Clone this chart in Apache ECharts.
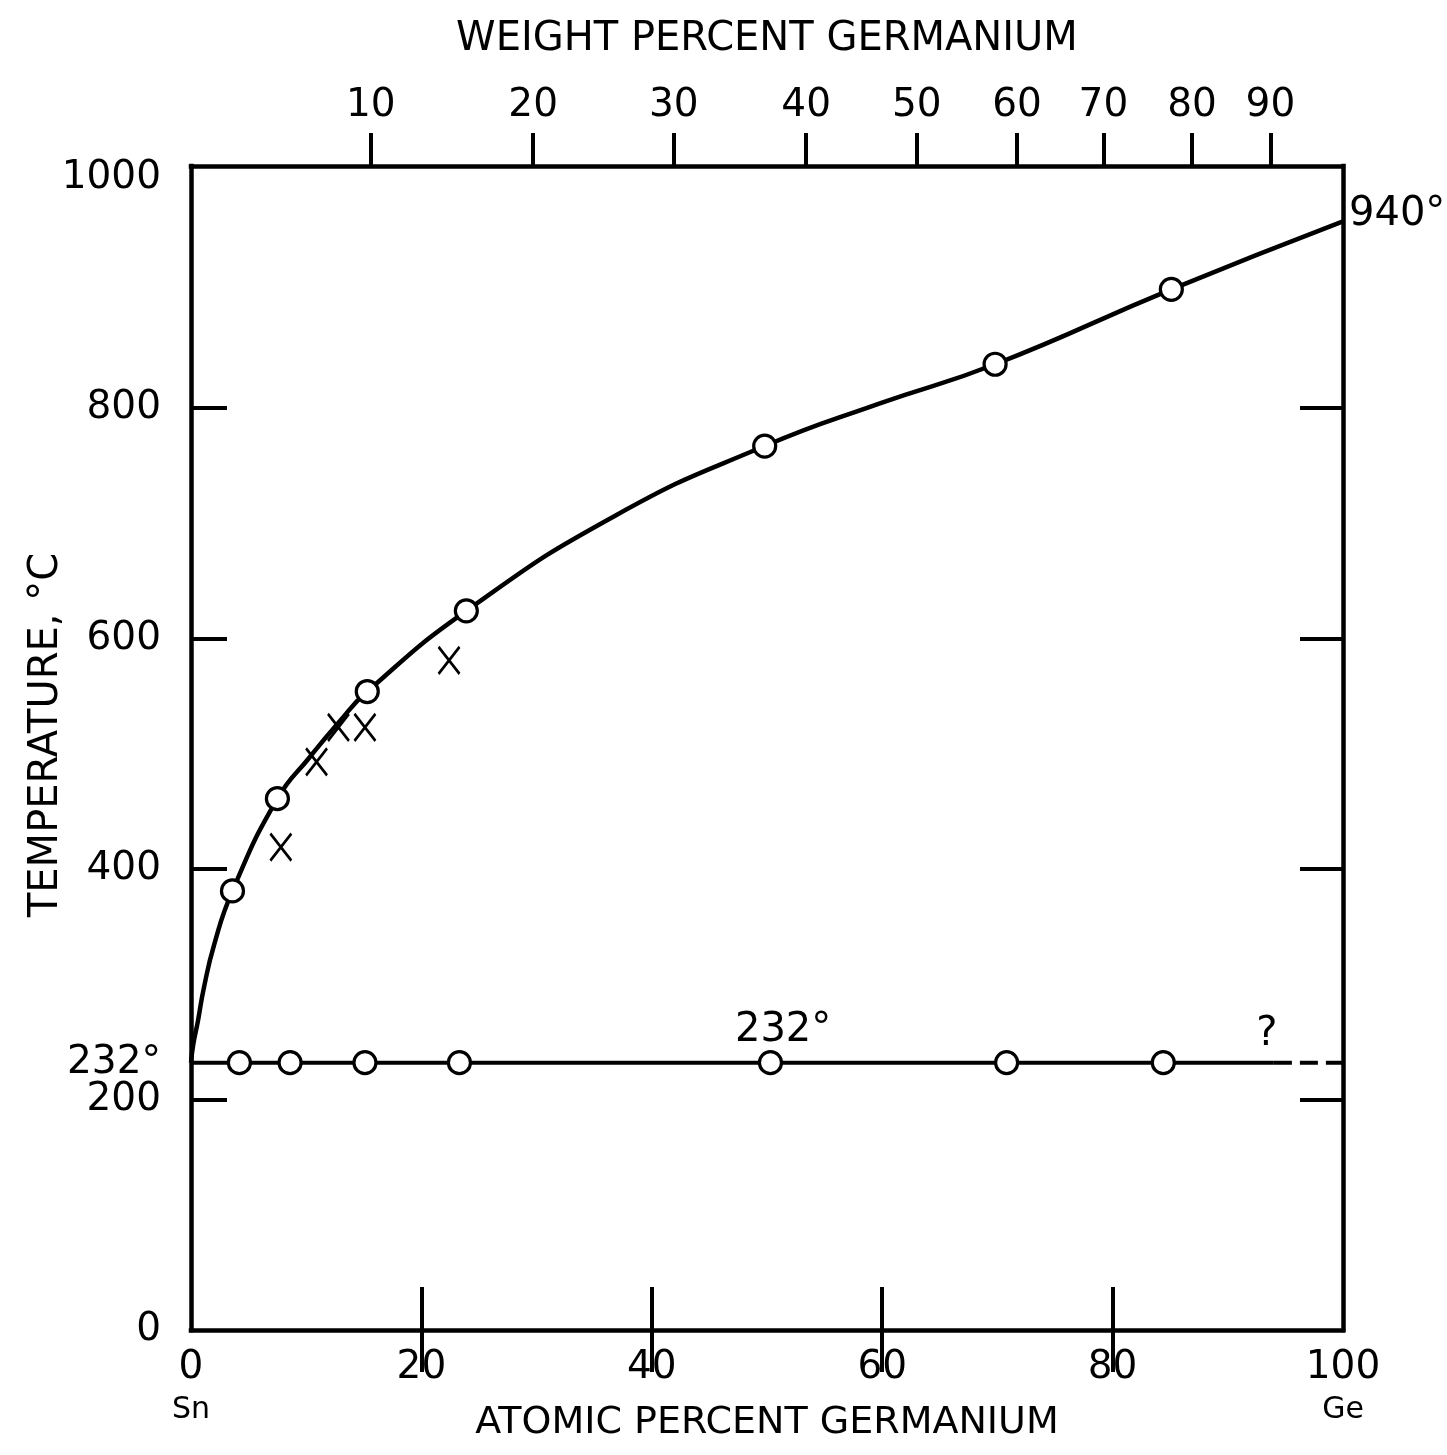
<!DOCTYPE html>
<html><head><meta charset="utf-8">
<script src="https://cdn.jsdelivr.net/npm/echarts@6/dist/echarts.min.js"></script>
<style>html,body{margin:0;padding:0;background:#fff}#c{width:1447px;height:1455px}</style>
</head><body><div id="c"></div>
<script>
// ---- data (atomic % Ge, temperature °C) ----
const liquidusAt = [0, 0.2, 0.6, 1.1, 2.0, 3.6, 7.5, 10.3, 12.8, 15.3, 23.9, 36.9, 49.8, 59.8, 69.8, 85.1, 100];
const liquidusT  = [232, 248, 268, 296, 334, 381, 461, 497, 527, 554, 624, 707, 767, 804, 838, 903, 962];
const liqCircleAt = [3.6, 7.5, 15.3, 23.9, 49.8, 69.8, 85.1];
const liqCircleT  = [381, 461, 554, 624, 767, 838, 903];
const solidusAt = [0, 94];
const solidusT  = [232, 232];
const solidusDashAt = [94, 100];
const solidusDashT  = [232, 232];
const solCircleAt = [4.2, 8.6, 15.1, 23.3, 50.3, 70.8, 84.4];
const solCircleT  = [232, 232, 232, 232, 232, 232, 232];
const crossAt = [7.8, 10.9, 12.8, 15.1, 22.4];
const crossT  = [419, 493, 523, 523, 581];
// axis ticks / labels
const atomicLabels = [0, 20, 40, 60, 80, 100];
const atomicInnerTicks = [20, 40, 60, 80];
const weightLabels = [10, 20, 30, 40, 50, 60, 70, 80, 90];
const weightTickAt = [15.6, 29.7, 41.9, 53.4, 63.0, 71.7, 79.2, 86.9, 93.7]; // atomic % position of each weight % tick
const tempLabels = [0, 200, 232, 400, 600, 800, 1000];
const tempTicks = [200, 400, 600, 800];
// annotations
const noteText = ['940°', '232°', '?'];
const noteAt = [100, 51.4, 93.4];
const noteT  = [968, 260, 256];

const FONT = 'DejaVu Sans';
const BLACK = '#000';
const FS = 39;
const pairs = (xs, ys) => xs.map((x, i) => [x, ys[i]]);
const axisLineStyle = {color: BLACK, width: 4.5, cap: 'square'};
const tickStyle = {color: BLACK, width: 4};

const chart = echarts.init(document.getElementById('c'));
chart.setOption({
  animation: false,
  backgroundColor: '#fff',
  textStyle: {fontFamily: FONT, color: BLACK},
  grid: {left: 191, top: 166, width: 1152, height: 1164, outerBoundsMode: 'none', containLabel: false},
  xAxis: [
    {
      type: 'value', position: 'bottom', min: 0, max: 100, interval: 20,
      axisLine: {show: true, onZero: false, lineStyle: axisLineStyle},
      axisTick: {show: true, inside: true, length: 43, customValues: atomicInnerTicks, lineStyle: tickStyle},
      axisLabel: {
        customValues: atomicLabels, margin: 16, fontFamily: FONT, color: BLACK, fontSize: FS, lineHeight: 44,
        formatter: v => v === 0 ? '{n|0}\n{s|Sn}' : (v === 100 ? '{n|100}\n{s|Ge}' : String(v)),
        rich: {
          n: {fontFamily: FONT, fontSize: FS, lineHeight: 44, color: BLACK},
          s: {fontFamily: FONT, fontSize: 30, lineHeight: 40, color: BLACK}
        }
      },
      splitLine: {show: false},
      name: 'ATOMIC PERCENT GERMANIUM', nameLocation: 'middle', nameGap: 74, nameMoveOverlap: false,
      nameTextStyle: {fontFamily: FONT, color: BLACK, fontSize: 38}
    },
    {
      type: 'value', position: 'top', min: 0, max: 100,
      axisLine: {show: true, onZero: false, lineStyle: axisLineStyle},
      axisTick: {show: true, inside: false, length: 33, customValues: weightTickAt, lineStyle: tickStyle},
      axisLabel: {
        customValues: weightTickAt, margin: 41, fontFamily: FONT, color: BLACK, fontSize: FS,
        formatter: v => {
          let best = 0;
          weightTickAt.forEach((p, i) => { if (Math.abs(p - v) < Math.abs(weightTickAt[best] - v)) best = i; });
          return String(weightLabels[best]);
        }
      },
      splitLine: {show: false},
      name: 'WEIGHT PERCENT GERMANIUM', nameLocation: 'middle', nameGap: 106, nameMoveOverlap: false,
      nameTextStyle: {fontFamily: FONT, color: BLACK, fontSize: 40}
    },
    {
      type: 'value', position: 'top', min: 0, max: 100,
      axisLine: {show: false},
      axisTick: {show: true, inside: true, length: 42, customValues: atomicInnerTicks, lineStyle: tickStyle},
      axisLabel: {show: false},
      splitLine: {show: false}
    }
  ],
  yAxis: [
    {
      type: 'value', position: 'left', min: 0, max: 1010,
      axisLine: {show: true, onZero: false, lineStyle: axisLineStyle},
      axisTick: {show: true, inside: true, length: 36, customValues: tempTicks, lineStyle: tickStyle},
      axisLabel: {
        customValues: tempLabels, margin: 30, fontFamily: FONT, color: BLACK, fontSize: FS,
        formatter: v => v === 232 ? '232°' : String(v)
      },
      splitLine: {show: false},
      name: 'TEMPERATURE, °C', nameLocation: 'middle', nameGap: 124, nameRotate: 90, nameMoveOverlap: false,
      nameTextStyle: {fontFamily: FONT, color: BLACK, fontSize: 40, padding: [0, 0, 0, 26]}
    },
    {
      type: 'value', position: 'right', min: 0, max: 1010,
      axisLine: {show: true, onZero: false, lineStyle: axisLineStyle},
      axisTick: {show: true, inside: true, length: 43, customValues: tempTicks, lineStyle: tickStyle},
      axisLabel: {show: false},
      splitLine: {show: false}
    }
  ],
  series: [
    {
      type: 'line', name: 'liquidus', data: pairs(liquidusAt, liquidusT),
      smooth: 0.5, showSymbol: false, symbol: 'none',
      lineStyle: {color: BLACK, width: 4.5}, z: 2
    },
    {
      type: 'line', name: 'solidus', data: pairs(solidusAt, solidusT),
      showSymbol: false, symbol: 'none', lineStyle: {color: BLACK, width: 4}, z: 2
    },
    {
      type: 'line', name: 'solidus?', data: pairs(solidusDashAt, solidusDashT),
      showSymbol: false, symbol: 'none', lineStyle: {color: BLACK, width: 4, type: [18, 8]}, z: 2
    },
    {
      type: 'scatter', name: 'liquidus points', data: pairs(liqCircleAt, liqCircleT),
      symbol: 'circle', symbolSize: 22, itemStyle: {color: '#fff', borderColor: BLACK, borderWidth: 3.2, opacity: 1}, z: 5
    },
    {
      type: 'scatter', name: 'solidus points', data: pairs(solCircleAt, solCircleT),
      symbol: 'circle', symbolSize: 22, itemStyle: {color: '#fff', borderColor: BLACK, borderWidth: 3.2, opacity: 1}, z: 5
    },
    {
      type: 'scatter', name: 'other points', data: pairs(crossAt, crossT),
      symbol: 'path://M0,0L20,26M20,0L0,26', symbolSize: [21, 27],
      itemStyle: {color: 'none', borderColor: BLACK, borderWidth: 2.8, opacity: 1}, z: 6
    },
    {
      type: 'scatter', name: 'notes', clip: false, symbolSize: 0, silent: true,
      itemStyle: {opacity: 1},
      label: {show: true, color: BLACK, fontFamily: FONT, fontSize: 40},
      data: noteText.map((t, i) => ({
        value: [noteAt[i], noteT[i]],
        label: {show: true, formatter: t, position: i === 0 ? 'right' : 'inside', distance: 6,
                fontFamily: FONT, fontSize: 40, color: BLACK}
      })),
      z: 7
    }
  ]
});
</script>
</body></html>
